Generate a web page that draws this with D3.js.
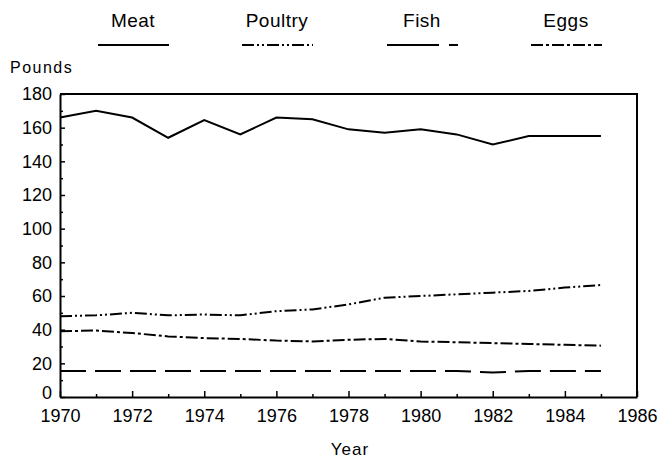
<!DOCTYPE html>
<html>
<head>
<meta charset="utf-8">
<script src="https://cdn.jsdelivr.net/npm/d3@7"></script>
<style>
  body { margin: 0; background: #fff; }
  text { font-family: "Liberation Sans", Arial, sans-serif; fill: #000; }
</style>
</head>
<body>
<div id="chart"></div>
<script>
const years = d3.range(1970, 1986);
const meat    = [166, 170, 166, 154, 164.5, 156, 166, 165, 159, 157, 159, 156, 150, 155, 155, 155];
const poultry = [48, 48.5, 50, 48.5, 49, 48.5, 51, 52, 55, 59, 60, 61, 62, 63, 65, 66.5];
const fish    = [15.5, 15.5, 15.5, 15.5, 15.5, 15.5, 15.5, 15.5, 15.5, 15.5, 15.5, 15.5, 14.5, 15.5, 15.5, 15.5];
const eggs    = [39, 39.5, 38, 36, 35, 34.5, 33.5, 33, 34, 34.5, 33, 32.5, 32, 31.5, 31, 30.5];
const yTicks = [0, 20, 40, 60, 80, 100, 120, 140, 160, 180];
const xTicks = [1970, 1972, 1974, 1976, 1978, 1980, 1982, 1984, 1986];

const series = [
  { name: "Meat",    values: meat,    dash: null,           legDash: null,             lx: 133 },
  { name: "Poultry", values: poultry, dash: "12,3,2,3,2,3", legDash: "12,3,2,3,2,3",   lx: 277 },
  { name: "Fish",    values: fish,    dash: "26,9",         legDash: "52,10,9,40",     lx: 422 },
  { name: "Eggs",    values: eggs,    dash: "12,3,3,3",     legDash: "12,3,3,3",       lx: 566 }
];

const W = 660, H = 460;
const svg = d3.select("#chart").append("svg")
  .attr("width", W).attr("height", H);

const x = d3.scaleLinear().domain([1970, 1986]).range([60, 637]);
const y = d3.scaleLinear().domain([0, 180]).range([397, 94]);

// frame (top + right)
svg.append("path")
  .attr("d", `M${x(1970)},${y(180)}H${x(1986)}V${y(0)}`)
  .attr("fill", "none").attr("stroke", "#000").attr("stroke-width", 2);

// left axis
const yAxis = svg.append("g")
  .attr("transform", `translate(${x(1970)},0)`)
  .call(d3.axisLeft(y).tickValues(yTicks).tickSize(-5).tickSizeOuter(0).tickPadding(8));
yAxis.selectAll(".tick text").style("font-size", "18px");
// keep the 0 clear of the 1970 label below it
yAxis.selectAll(".tick text").filter(d => d === 0).attr("dy", "0.1em");
svg.append("g")
  .attr("transform", `translate(${x(1970)},0)`)
  .call(d3.axisLeft(y).tickValues(d3.range(10, 180, 20)).tickSize(-3).tickFormat("").tickSizeOuter(0))
  .select(".domain").remove();

// bottom axis
const xAxis = svg.append("g")
  .attr("transform", `translate(0,${y(0)})`)
  .call(d3.axisBottom(x).tickValues(xTicks).tickFormat(d3.format("d")).tickSize(-6).tickSizeOuter(0).tickPadding(12));
xAxis.selectAll(".tick text").style("font-size", "18px");
svg.append("g")
  .attr("transform", `translate(0,${y(0)})`)
  .call(d3.axisBottom(x).tickValues(d3.range(1971, 1986, 2)).tickSize(-3).tickFormat("").tickSizeOuter(0))
  .select(".domain").remove();

svg.selectAll(".domain").attr("stroke-width", 2);
svg.selectAll(".tick line").attr("stroke-width", 1.5);

// lines
const line = d3.line().x((d, i) => x(years[i])).y(d => y(d));
series.forEach(s => {
  svg.append("path")
    .datum(s.values)
    .attr("fill", "none")
    .attr("stroke", "#000")
    .attr("stroke-width", 2)
    .attr("stroke-dasharray", s.dash)
    .attr("d", line);
});

// legend
series.forEach(s => {
  svg.append("text").attr("x", s.lx).attr("y", 27)
    .attr("text-anchor", "middle")
    .style("font-size", "19px").style("letter-spacing", "0.5px")
    .text(s.name);
  svg.append("line")
    .attr("x1", s.lx - 35).attr("x2", s.lx + 36).attr("y1", 45).attr("y2", 45)
    .attr("stroke", "#000").attr("stroke-width", 2)
    .attr("stroke-dasharray", s.legDash);
});

// axis titles
svg.append("text").attr("x", 10).attr("y", 73)
  .style("font-size", "16px").style("letter-spacing", "1.5px").text("Pounds");
svg.append("text").attr("x", 350).attr("y", 455)
  .attr("text-anchor", "middle")
  .style("font-size", "17px").style("letter-spacing", "1px").text("Year");
</script>
</body>
</html>
